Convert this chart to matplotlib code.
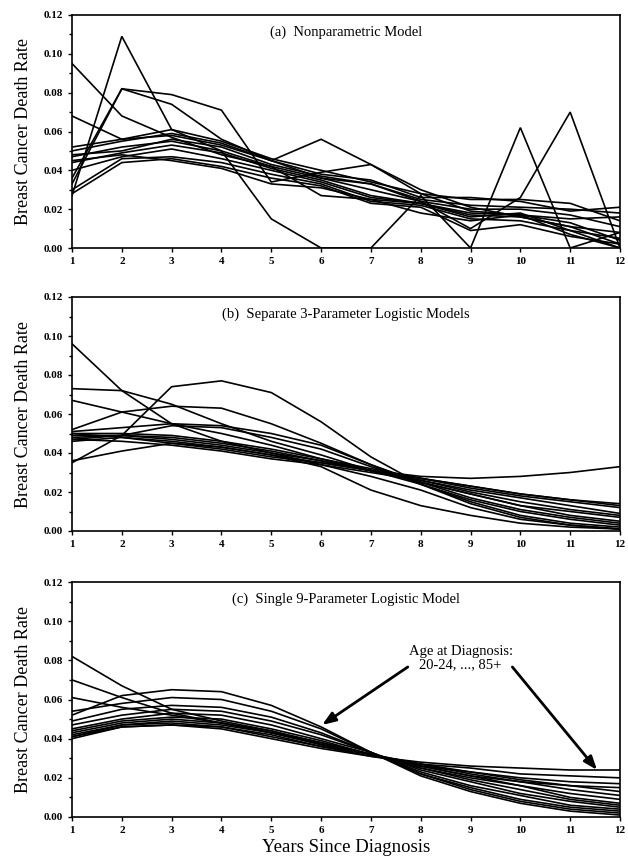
import matplotlib
matplotlib.use("Agg")
import matplotlib.pyplot as plt
from matplotlib.ticker import MultipleLocator, FormatStrFormatter

plt.rcParams['font.family'] = ['Liberation Serif', 'DejaVu Serif']

years = [1, 2, 3, 4, 5, 6, 7, 8, 9, 10, 11, 12]
xtick_labels = ['1', '2', '3', '4', '5', '6', '7', '8', '9', '10', '11', '12']
ytick_values = [0.00, 0.02, 0.04, 0.06, 0.08, 0.10, 0.12]

# (a) Nonparametric model: one series per age group (14 groups)
nonparam = [
    [0.027, 0.109, 0.061, 0.050, 0.015, 0.000, 0.000, 0.027, 0.000, 0.062, 0.000, 0.008],
    [0.036, 0.082, 0.074, 0.056, 0.045, 0.036, 0.033, 0.024, 0.010, 0.026, 0.070, 0.000],
    [0.033, 0.082, 0.079, 0.071, 0.034, 0.039, 0.043, 0.028, 0.019, 0.017, 0.013, 0.004],
    [0.095, 0.068, 0.057, 0.048, 0.042, 0.027, 0.025, 0.023, 0.016, 0.018, 0.009, 0.000],
    [0.068, 0.056, 0.058, 0.053, 0.045, 0.056, 0.043, 0.030, 0.021, 0.016, 0.011, 0.002],
    [0.052, 0.056, 0.061, 0.055, 0.046, 0.040, 0.034, 0.028, 0.025, 0.025, 0.023, 0.014],
    [0.050, 0.055, 0.059, 0.054, 0.045, 0.038, 0.035, 0.026, 0.026, 0.024, 0.019, 0.021],
    [0.048, 0.050, 0.056, 0.052, 0.043, 0.037, 0.033, 0.025, 0.022, 0.021, 0.020, 0.018],
    [0.047, 0.052, 0.055, 0.050, 0.042, 0.036, 0.030, 0.024, 0.020, 0.020, 0.017, 0.011],
    [0.044, 0.049, 0.053, 0.049, 0.041, 0.035, 0.027, 0.023, 0.018, 0.017, 0.015, 0.016],
    [0.040, 0.047, 0.051, 0.046, 0.040, 0.034, 0.026, 0.023, 0.017, 0.016, 0.011, 0.008],
    [0.030, 0.046, 0.047, 0.044, 0.038, 0.033, 0.024, 0.022, 0.015, 0.014, 0.009, 0.005],
    [0.028, 0.044, 0.046, 0.042, 0.036, 0.032, 0.023, 0.021, 0.009, 0.012, 0.006, 0.002],
    [0.045, 0.048, 0.045, 0.041, 0.033, 0.031, 0.025, 0.018, 0.014, 0.017, 0.007, 0.000],
]

# (b) Separate 3-parameter logistic models
separate3 = [
    [0.096, 0.072, 0.055, 0.046, 0.040, 0.034, 0.028, 0.021, 0.012, 0.006, 0.003, 0.001],
    [0.073, 0.072, 0.065, 0.055, 0.046, 0.039, 0.031, 0.024, 0.016, 0.010, 0.006, 0.003],
    [0.067, 0.061, 0.055, 0.050, 0.044, 0.037, 0.031, 0.025, 0.019, 0.013, 0.008, 0.005],
    [0.035, 0.049, 0.074, 0.077, 0.071, 0.056, 0.038, 0.024, 0.014, 0.007, 0.003, 0.001],
    [0.052, 0.061, 0.064, 0.063, 0.055, 0.045, 0.034, 0.024, 0.015, 0.008, 0.004, 0.002],
    [0.036, 0.041, 0.045, 0.043, 0.039, 0.033, 0.021, 0.013, 0.008, 0.004, 0.002, 0.001],
    [0.049, 0.049, 0.048, 0.045, 0.041, 0.036, 0.031, 0.028, 0.027, 0.028, 0.030, 0.033],
    [0.051, 0.053, 0.055, 0.054, 0.050, 0.044, 0.034, 0.025, 0.017, 0.011, 0.007, 0.004],
    [0.047, 0.049, 0.054, 0.053, 0.048, 0.042, 0.033, 0.025, 0.019, 0.013, 0.010, 0.007],
    [0.050, 0.050, 0.049, 0.046, 0.042, 0.037, 0.032, 0.027, 0.023, 0.019, 0.016, 0.013],
    [0.048, 0.049, 0.047, 0.044, 0.040, 0.036, 0.031, 0.027, 0.023, 0.019, 0.016, 0.014],
    [0.046, 0.048, 0.046, 0.043, 0.039, 0.035, 0.031, 0.027, 0.022, 0.018, 0.015, 0.012],
    [0.050, 0.048, 0.045, 0.042, 0.038, 0.035, 0.031, 0.026, 0.021, 0.017, 0.013, 0.009],
    [0.047, 0.046, 0.044, 0.041, 0.037, 0.034, 0.030, 0.026, 0.020, 0.015, 0.011, 0.008],
]

# (c) Single 9-parameter logistic model
single9 = [
    [0.082, 0.067, 0.055, 0.049, 0.044, 0.037, 0.032, 0.027, 0.023, 0.019, 0.016, 0.013],
    [0.070, 0.061, 0.053, 0.048, 0.043, 0.037, 0.032, 0.027, 0.022, 0.018, 0.014, 0.011],
    [0.061, 0.056, 0.052, 0.048, 0.043, 0.038, 0.032, 0.026, 0.021, 0.016, 0.012, 0.009],
    [0.040, 0.046, 0.047, 0.045, 0.040, 0.035, 0.031, 0.028, 0.026, 0.025, 0.024, 0.024],
    [0.041, 0.046, 0.047, 0.046, 0.041, 0.036, 0.031, 0.027, 0.025, 0.022, 0.021, 0.020],
    [0.041, 0.047, 0.048, 0.046, 0.042, 0.036, 0.032, 0.026, 0.023, 0.020, 0.018, 0.017],
    [0.042, 0.047, 0.049, 0.047, 0.043, 0.037, 0.032, 0.026, 0.021, 0.018, 0.016, 0.015],
    [0.043, 0.048, 0.050, 0.048, 0.044, 0.038, 0.032, 0.025, 0.020, 0.016, 0.010, 0.007],
    [0.044, 0.049, 0.051, 0.050, 0.045, 0.039, 0.032, 0.025, 0.019, 0.014, 0.009, 0.006],
    [0.045, 0.050, 0.053, 0.052, 0.047, 0.040, 0.033, 0.024, 0.018, 0.012, 0.008, 0.005],
    [0.047, 0.052, 0.055, 0.054, 0.049, 0.042, 0.033, 0.023, 0.016, 0.011, 0.006, 0.004],
    [0.049, 0.055, 0.057, 0.056, 0.051, 0.043, 0.033, 0.022, 0.015, 0.009, 0.005, 0.003],
    [0.054, 0.058, 0.061, 0.060, 0.054, 0.045, 0.033, 0.022, 0.014, 0.008, 0.004, 0.002],
    [0.052, 0.062, 0.065, 0.064, 0.057, 0.046, 0.033, 0.021, 0.013, 0.007, 0.003, 0.001],
]

titles = ['(a)  Nonparametric Model',
          '(b)  Separate 3-Parameter Logistic Models',
          '(c)  Single 9-Parameter Logistic Model']
panel_data = [nonparam, separate3, single9]

fig = plt.figure(figsize=(6.28, 8.58), dpi=100)
left, width = 72 / 628, 548 / 628
rects = [
    (left, 1 - 248 / 858, width, 233 / 858),
    (left, 1 - 531 / 858, width, 234 / 858),
    (left, 1 - 817 / 858, width, 235 / 858),
]

axes = []
for rect, series_list, title in zip(rects, panel_data, titles):
    ax = fig.add_axes(rect)
    for s in series_list:
        ax.plot(years, s, color='black', lw=1.2, solid_joinstyle='miter')
    ax.set_xlim(1, 12)
    ax.set_ylim(0, 0.12)
    ax.set_xticks(years)
    ax.set_xticklabels(xtick_labels)
    ax.set_yticks(ytick_values)
    ax.yaxis.set_major_formatter(FormatStrFormatter('%.2f'))
    ax.yaxis.set_minor_locator(MultipleLocator(0.01))
    ax.tick_params(axis='both', which='major', direction='out', length=3,
                   width=1.0, labelsize=8)
    ax.tick_params(axis='y', which='minor', direction='out', length=2, width=1.0)
    for lab in ax.get_xticklabels() + ax.get_yticklabels():
        lab.set_fontweight('bold')
    for sp in ax.spines.values():
        sp.set_linewidth(1.2)
    ax.set_ylabel('Breast Cancer Death Rate', fontsize=13, labelpad=8)
    ax.text(0.5, 0.925, title, transform=ax.transAxes, ha='center', va='center',
            fontsize=10.5)
    axes.append(ax)

axc = axes[2]
axc.set_xlabel('Years Since Diagnosis', fontsize=13.5, labelpad=3)
axc.text(8.8, 0.081, 'Age at Diagnosis:\n20-24, ..., 85+', ha='center', va='center',
         fontsize=10.5, linespacing=1.0)
arrow_kw = dict(arrowstyle='-|>,head_length=0.8,head_width=0.3', color='black',
                lw=2.0, shrinkA=0, shrinkB=0)
axc.annotate('', xy=(6.02, 0.047), xytext=(7.74, 0.0766), arrowprops=arrow_kw)
axc.annotate('', xy=(11.54, 0.024), xytext=(9.84, 0.0766), arrowprops=arrow_kw)

fig.savefig('out.png', dpi=100)
